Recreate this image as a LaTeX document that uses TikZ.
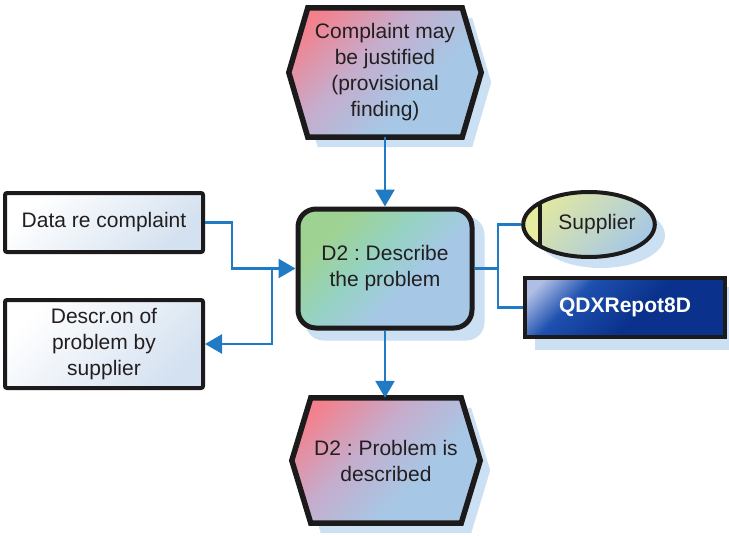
\documentclass[tikz,border=0pt]{standalone}
\usepackage{fontspec}
\setmainfont{Liberation Sans}
\usetikzlibrary{arrows.meta,shapes.geometric,backgrounds}
\frenchspacing

\definecolor{linkblue}{RGB}{32,122,196}
\definecolor{shadowblue}{RGB}{204,224,243}
\definecolor{rosy}{RGB}{244,128,140}
\definecolor{mauve}{RGB}{198,172,204}
\definecolor{skyish}{RGB}{166,200,230}
\definecolor{leaf}{RGB}{158,210,146}
\definecolor{teal}{RGB}{150,210,196}
\definecolor{paleblue}{RGB}{212,225,240}
\definecolor{limebright}{RGB}{230,236,160}
\definecolor{limesoft}{RGB}{226,232,160}
\definecolor{navy}{RGB}{10,50,140}
\definecolor{royal}{RGB}{30,80,175}
\definecolor{lightnavy}{RGB}{175,190,228}
\definecolor{inkblack}{RGB}{28,26,26}
\definecolor{textgray}{RGB}{35,31,32}

% gradients running from the top-left corner to the bottom-right corner
\pgfdeclareverticalshading{evgrad}{100bp}{color(0bp)=(skyish); color(38bp)=(skyish); color(58bp)=(mauve); color(78bp)=(rosy); color(100bp)=(rosy)}
\pgfdeclareverticalshading{fngrad}{100bp}{color(0bp)=(skyish); color(40bp)=(skyish); color(55bp)=(teal); color(72bp)=(leaf); color(100bp)=(leaf)}
\pgfdeclareverticalshading{qdxgrad}{100bp}{color(0bp)=(navy); color(45bp)=(navy); color(66bp)=(royal); color(80bp)=(lightnavy); color(100bp)=(lightnavy)}

% hexagonal event outline around a named text node
\newcommand\hexof[1]{(#1.north west) -- (#1.north east) -- ([xshift=19pt]#1.east) -- (#1.south east) -- (#1.south west) -- ([xshift=-19pt]#1.west) -- cycle}

\tikzset{
  lbl/.style={font=\fontsize{21}{26}\selectfont, text=textgray, align=center, inner sep=0pt},
  shadowfill/.style={fill=shadowblue},
  evshape/.style={shading=evgrad, shading angle=45, draw=inkblack, line width=5.5pt, line join=miter},
  evtext/.style={lbl, rectangle, minimum width=154pt, minimum height=129pt},
  funcbox/.style={lbl, rectangle, rounded corners=18pt, draw=inkblack, line width=5pt, shading=fngrad, shading angle=45, minimum width=174pt, minimum height=119pt},
  databox/.style={lbl, rectangle, rounded corners=2pt, draw=inkblack, line width=4pt, top color=white, bottom color=paleblue, shading angle=45, minimum width=198pt},
  orgunit/.style={lbl, ellipse, draw=inkblack, line width=4pt, top color=limesoft, bottom color=skyish, shading angle=45, minimum width=128pt, minimum height=65pt},
  sysbox/.style={lbl, rectangle, draw=inkblack, line width=4pt, shading=qdxgrad, shading angle=45, text=white, font=\fontsize{21}{26}\selectfont\bfseries, minimum width=200pt, minimum height=59pt},
  link/.style={draw=linkblue, line width=2.5pt},
  arrowed/.style={-{Triangle[length=17pt,width=19pt]}}
}

\begin{document}
\begin{tikzpicture}[x=1pt,y=-1pt]
\useasboundingbox (0,0) rectangle (729,536);

% event texts (the hexagons are drawn behind them)
\node[evtext] (evtop) at (385,72.5) {Complaint may\\be justified\\(provisional\\finding)};
\node[evtext, minimum width=150pt, minimum height=125pt] (evbot) at (386,460.5) {D2 : Problem is\\described};

% function
\node[funcbox] (desc) at (385,268.5) {D2 : Describe\\the problem};

% information objects
\node[databox, minimum height=59pt] (data) at (104,222.5) {Data re complaint};
\node[databox, minimum height=88pt] (descr) at (104,344) {Descr.on of\\problem by\\supplier};

% organisational unit
\node[orgunit, path picture={
    \fill[limebright] (path picture bounding box.north west) rectangle ([xshift=17pt]path picture bounding box.south west);
    \draw[inkblack, line width=4pt] ([xshift=17pt]path picture bounding box.north west) -- ([xshift=17pt]path picture bounding box.south west);
  }] (sup) at (589,224.5) {\hspace{16pt}Supplier};

% application system
\node[sysbox] (qdx) at (625,307.5) {QDXRepot8D};

\begin{scope}[on background layer]
  \begin{scope}[transform canvas={shift={(10pt,-10pt)}}]
    \fill[shadowfill] \hexof{evtop};
    \fill[shadowfill] \hexof{evbot};
    \fill[shadowfill, rounded corners=18pt] (desc.north west) rectangle (desc.south east);
  \end{scope}
  \begin{scope}[transform canvas={shift={(12pt,-11pt)}}]
    \fill[shadowfill] (sup.center) ellipse [x radius=64pt, y radius=32.5pt];
    \fill[shadowfill] (qdx.north west) rectangle (qdx.south east);
  \end{scope}
  \path[evshape] \hexof{evtop};
  \path[evshape] \hexof{evbot};
\end{scope}

% connectors
\coordinate (jl) at (272,268.5);
\coordinate (jr) at (498,268.5);
\draw[link, arrowed] (data.east) -- ++(27,0) |- (desc.west);
\draw[link, arrowed] (jl) |- (descr.east);
\draw[link, arrowed] (evtop.south) -- (desc.north);
\draw[link, arrowed] (desc.south) -- (desc.south |- evbot.north);
\draw[link] (desc.east) -- (jr);
\draw[link] (sup.west) -| (jr) |- (qdx.west);
\end{tikzpicture}
\end{document}
